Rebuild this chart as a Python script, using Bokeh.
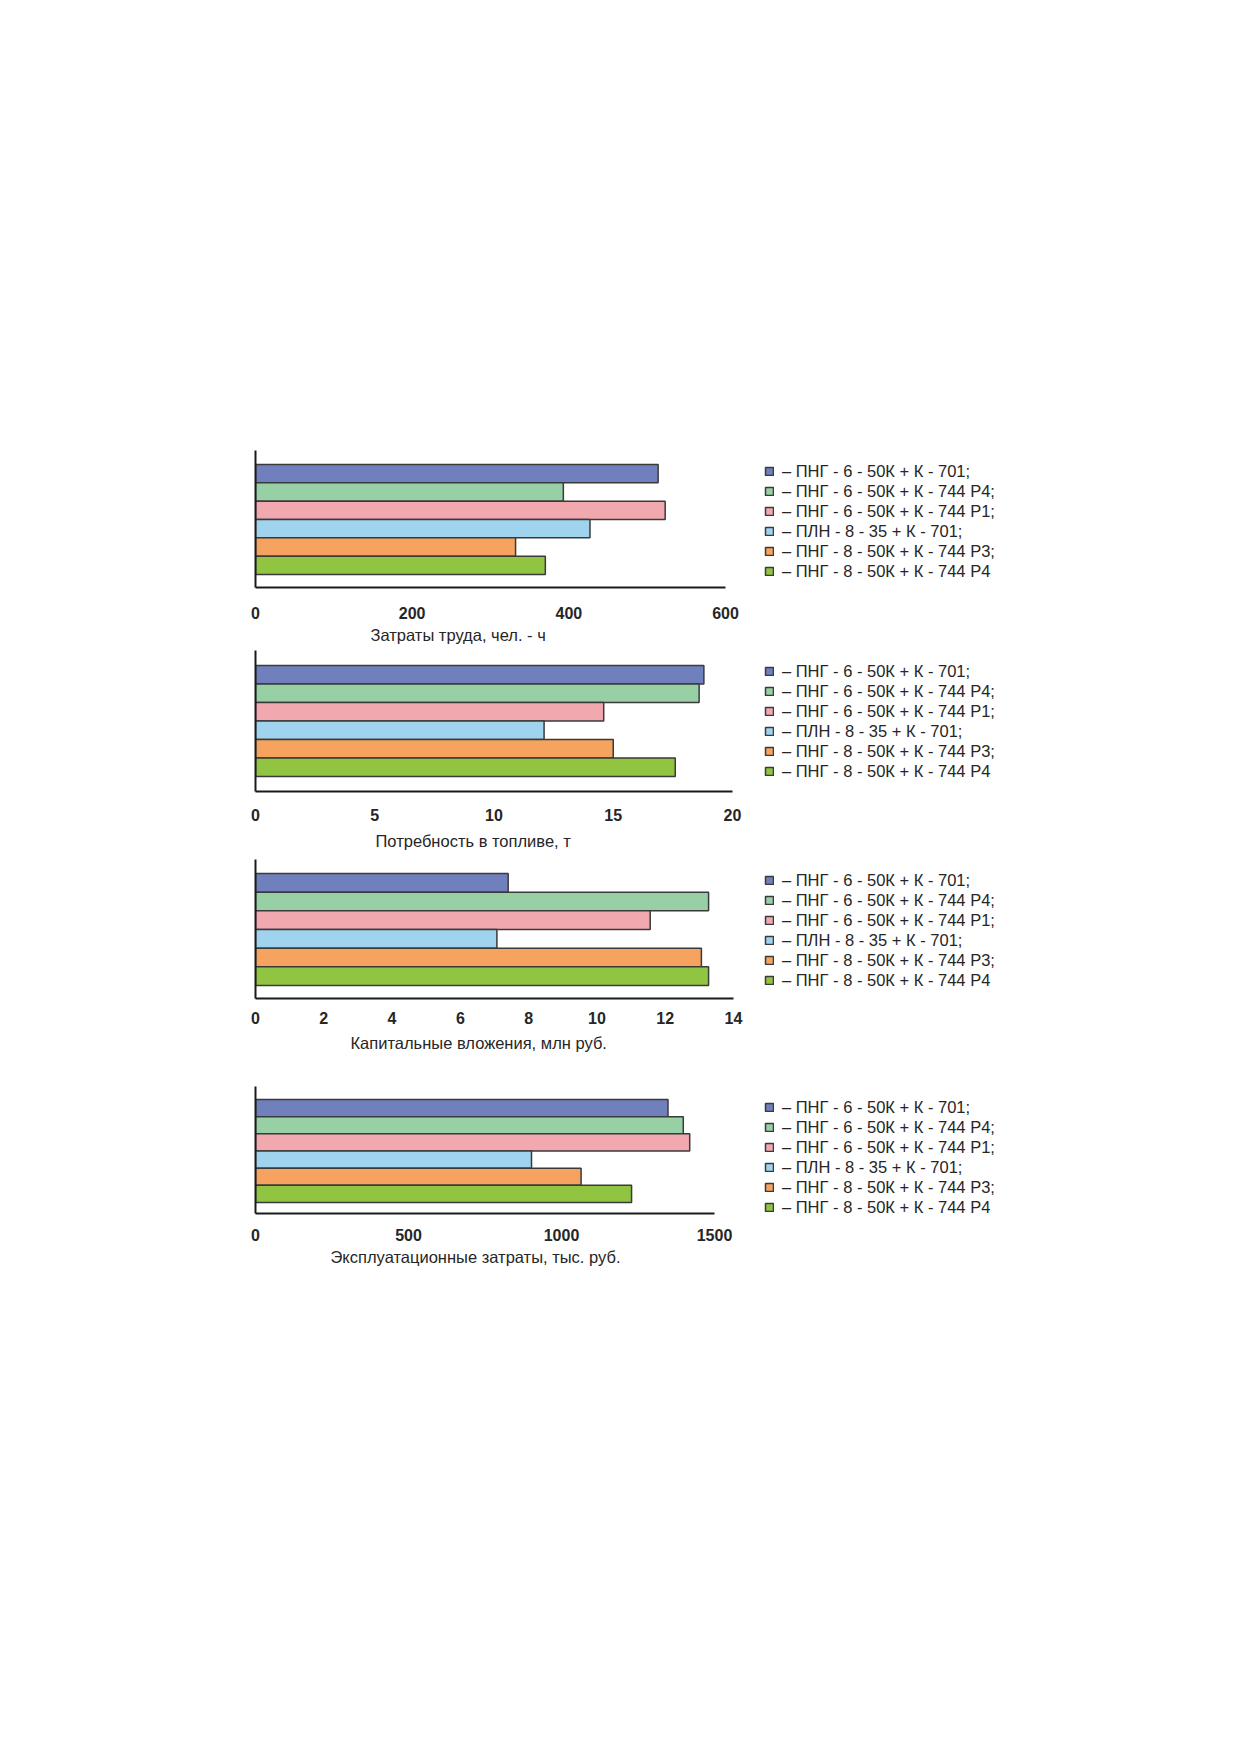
from bokeh.plotting import figure
from bokeh.models import Range1d, FixedTicker, Legend, LegendItem, Title
from bokeh.layouts import column
from bokeh.embed import file_html
from bokeh.resources import INLINE

# ---------------- data ----------------
series_names = [
    "– ПНГ - 6 - 50К + К - 701;",
    "– ПНГ - 6 - 50К + К - 744 Р4;",
    "– ПНГ - 6 - 50К + К - 744 Р1;",
    "– ПЛН - 8 - 35 + К - 701;",
    "– ПНГ - 8 - 50К + К - 744 Р3;",
    "– ПНГ - 8 - 50К + К - 744 Р4",
]
labor_values = [514, 393, 523, 427, 332, 370]
fuel_values = [18.8, 18.6, 14.6, 12.1, 15.0, 17.6]
capital_values = [7.4, 13.27, 11.56, 7.07, 13.06, 13.27]
operating_values = [1348, 1398, 1419, 902, 1064, 1229]

labor_ticks = [0, 200, 400, 600]
fuel_ticks = [0, 5, 10, 15, 20]
capital_ticks = [0, 2, 4, 6, 8, 10, 12, 14]
operating_ticks = [0, 500, 1000, 1500]

titles = [
    "Затраты труда, чел. - ч",
    "Потребность в топливе, т",
    "Капитальные вложения, млн руб.",
    "Эксплуатационные затраты, тыс. руб.",
]

# ---------------- style ----------------
colors = ["#6f80bd", "#96d0a4", "#f1a8ae", "#9fd3ee", "#f5a35e", "#91c440"]
FONT = "Liberation Sans"
TEXT = "#262626"
PAGE_TOP = 0
FRAME_LEFT = 255
FIG_RIGHT = 1150
LEGEND_X = 764
ROW_H = 20

# page geometry per chart: frame top, frame bottom, frame right,
# bar top, bar bottom, tick standoff, title standoff, title left offset,
# space below the frame
geoms = [
    dict(ft=450, fb=587, fr=725, bt=464, bb=574, ts=19, tls=8, tlo=115, bot=63),
    dict(ft=650, fb=791, fr=732, bt=665, bb=776, ts=17, tls=16, tlo=120, bot=67),
    dict(ft=858, fb=997, fr=733, bt=872, bb=984, ts=13, tls=15, tlo=95, bot=88),
    dict(ft=1085, fb=1212, fr=714, bt=1098, bb=1201, ts=15, tls=8, tlo=75, bot=66),
]


def make_chart(vals, ticks, title, g, prev_bottom):
    fh = g["fb"] - g["ft"]
    fw = g["fr"] - FRAME_LEFT
    pitch = (g["bb"] - g["bt"]) / len(vals)
    y_top = -0.5 - (g["bt"] - g["ft"]) / pitch
    y_bot = len(vals) - 0.5 + (g["fb"] - g["bb"]) / pitch
    p = figure(
        frame_width=fw, frame_height=fh,
        min_border_left=FRAME_LEFT,
        min_border_right=FIG_RIGHT - g["fr"],
        min_border_top=g["ft"] - prev_bottom,
        min_border_bottom=g["bot"],
        x_range=Range1d(0, ticks[-1]),
        y_range=Range1d(y_bot, y_top),
        output_backend="svg", toolbar_location=None,
        background_fill_color="white", border_fill_color="white",
        outline_line_color=None,
    )
    items = []
    for i, (name, v, c) in enumerate(zip(series_names, vals, colors)):
        r = p.hbar(y=[i], left=[0], right=[v], height=1.0,
                   fill_color=c, line_color="#3a3a3a", line_width=1.5)
        items.append(LegendItem(label=name, renderers=[r]))
    p.xgrid.visible = False
    p.ygrid.visible = False

    xa = p.xaxis[0]
    xa.ticker = FixedTicker(ticks=ticks)
    xa.axis_line_color = "#1a1a1a"
    xa.axis_line_width = 2
    xa.major_tick_line_color = None
    xa.minor_tick_line_color = None
    xa.major_tick_out = 0
    xa.major_tick_in = 0
    xa.major_label_standoff = g["ts"]
    xa.major_label_text_font = FONT
    xa.major_label_text_font_size = "16px"
    xa.major_label_text_font_style = "bold"
    xa.major_label_text_color = TEXT

    ya = p.yaxis[0]
    ya.ticker = FixedTicker(ticks=[])
    ya.axis_line_color = "#1a1a1a"
    ya.axis_line_width = 2
    ya.major_tick_line_color = None
    ya.minor_tick_line_color = None
    ya.major_label_text_font_size = "0px"

    p.add_layout(Title(text=title, align="left", offset=g["tlo"],
                       standoff=g["tls"], vertical_align="top",
                       text_font=FONT, text_font_size="16.5px",
                       text_font_style="normal", text_color=TEXT), "below")

    legend = Legend(
        items=items,
        location=(LEGEND_X - g["fr"], round(fh - 10.5 - ROW_H * len(vals))),
        orientation="vertical",
        padding=0, margin=0, spacing=0,
        border_line_color=None, background_fill_alpha=0,
        glyph_width=10, glyph_height=10, label_height=ROW_H,
        label_standoff=8,
        label_text_font=FONT, label_text_font_size="16.5px",
        label_text_color=TEXT,
    )
    p.add_layout(legend, "right")
    return p


all_vals = [labor_values, fuel_values, capital_values, operating_values]
all_ticks = [labor_ticks, fuel_ticks, capital_ticks, operating_ticks]
figs = []
prev = PAGE_TOP
for vals, ticks, title, g in zip(all_vals, all_ticks, titles, geoms):
    figs.append(make_chart(vals, ticks, title, g, prev))
    prev = g["fb"] + g["bot"]

layout = column(*figs)
open("out.html", "w").write(file_html(layout, INLINE))
